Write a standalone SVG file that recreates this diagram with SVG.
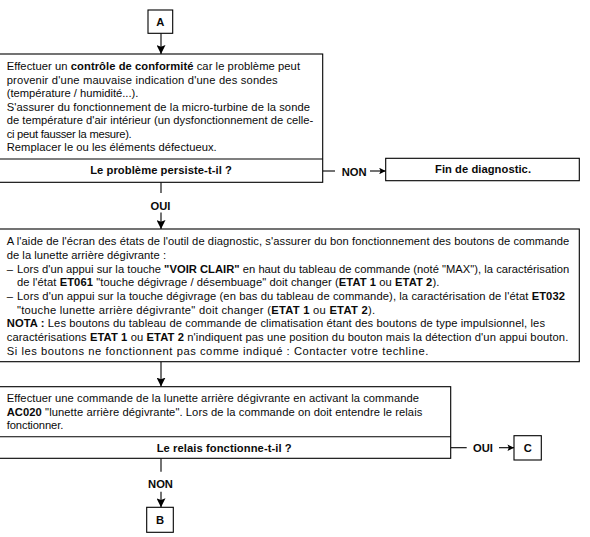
<svg xmlns="http://www.w3.org/2000/svg" width="590" height="537" viewBox="0 0 590 537">
<defs>
<style>
.box{fill:#fff;stroke:#000;stroke-width:1.1}
.t{font-family:"Liberation Sans",Arial,sans-serif;font-size:11.2px;fill:#0a0a0a}
.b{font-weight:bold}
.c{text-anchor:middle}
.ln{stroke:#000;stroke-width:1.1;fill:none}
</style>
<marker id="big" markerUnits="userSpaceOnUse" viewBox="0 0 10 10" markerWidth="9" markerHeight="9" refX="10" refY="5" orient="auto">
<path d="M0,0 L10,5 L0,10 L2,5 z" fill="#000"/>
</marker>
<marker id="small" markerUnits="userSpaceOnUse" viewBox="0 0 10 10" markerWidth="7" markerHeight="6.5" refX="10" refY="5" orient="auto">
<path d="M0,0 L10,5 L0,10 L2,5 z" fill="#000"/>
</marker>
</defs>
<rect width="590" height="537" fill="#fff"/>

<g id="connectors">
<line class="ln" x1="161" y1="33.3" x2="161" y2="54" marker-end="url(#big)"/>
<line class="ln" x1="161" y1="182.3" x2="161" y2="193"/>
<line class="ln" x1="161" y1="212.5" x2="161" y2="229" marker-end="url(#big)"/>
<line class="ln" x1="322.7" y1="171" x2="335" y2="171"/>
<line class="ln" x1="370" y1="171" x2="385.7" y2="171" marker-end="url(#small)"/>
<line class="ln" x1="161" y1="362" x2="161" y2="386.5" marker-end="url(#big)"/>
<line class="ln" x1="161" y1="458.3" x2="161" y2="471.7"/>
<line class="ln" x1="161" y1="491.7" x2="161" y2="507.3" marker-end="url(#big)"/>
<line class="ln" x1="451" y1="447.7" x2="466.7" y2="447.7"/>
<line class="ln" x1="499" y1="447.7" x2="514" y2="447.7" marker-end="url(#small)"/>
<text class="t b c" x="354.2" y="176">NON</text>
<text class="t b c" x="160.5" y="210">OUI</text>
<text class="t b c" x="160.5" y="487.5">NON</text>
<text class="t b c" x="483" y="451.7">OUI</text>
</g>

<g id="nodeA">
<rect class="box" x="148" y="10" width="24.7" height="23.3"/>
<text class="t b c" x="160.3" y="25.5">A</text>
</g>

<g id="node1">
<rect class="box" x="-2" y="54" width="324.7" height="128.3"/>
<line class="ln" x1="-2" y1="159" x2="322.7" y2="159"/>
<text class="t" x="6.7" y="70" textLength="293.3" lengthAdjust="spacing">Effectuer un <tspan class="b">contrôle de conformité</tspan> car le problème peut</text>
<text class="t" x="6.7" y="83.5" textLength="271" lengthAdjust="spacing">provenir d'une mauvaise indication d'une des sondes</text>
<text class="t" x="6.7" y="97" textLength="131.6" lengthAdjust="spacing">(température / humidité...).</text>
<text class="t" x="6.7" y="110.7" textLength="303.3" lengthAdjust="spacing">S'assurer du fonctionnement de la micro-turbine de la sonde</text>
<text class="t" x="6.7" y="124.3" textLength="306.6" lengthAdjust="spacing">de température d'air intérieur (un dysfonctionnement de celle-</text>
<text class="t" x="6.7" y="137.8" textLength="125" lengthAdjust="spacing">ci peut fausser la mesure).</text>
<text class="t" x="6.7" y="150.7" textLength="210" lengthAdjust="spacing">Remplacer le ou les éléments défectueux.</text>
<text class="t b c" x="161" y="174.3" textLength="141.7" lengthAdjust="spacing">Le problème persiste-t-il ?</text>
</g>

<g id="nodeFin">
<rect class="box" x="385.7" y="158.3" width="193.6" height="22.4"/>
<text class="t b c" x="483" y="173" textLength="96" lengthAdjust="spacing">Fin de diagnostic.</text>
</g>

<g id="node2">
<rect class="box" x="-2" y="229" width="581.3" height="132.7"/>
<text class="t" x="6.7" y="245.3" textLength="562.6" lengthAdjust="spacing">A l'aide de l'écran des états de l'outil de diagnostic, s'assurer du bon fonctionnement des boutons de commande</text>
<text class="t" x="6.7" y="259" textLength="159.3" lengthAdjust="spacing">de la lunette arrière dégivrante :</text>
<text class="t" x="6.7" y="272.6">–</text>
<text class="t" x="17" y="272.6" textLength="552.3" lengthAdjust="spacing">Lors d'un appui sur la touche <tspan class="b">"VOIR CLAIR"</tspan> en haut du tableau de commande (noté "MAX"), la caractérisation</text>
<text class="t" x="17" y="286.3" textLength="422.3" lengthAdjust="spacing">de l'état <tspan class="b">ET061</tspan> "touche dégivrage / désembuage" doit changer (<tspan class="b">ETAT 1</tspan> ou <tspan class="b">ETAT 2</tspan>).</text>
<text class="t" x="6.7" y="300">–</text>
<text class="t" x="17" y="300" textLength="548" lengthAdjust="spacing">Lors d'un appui sur la touche dégivrage (en bas du tableau de commande), la caractérisation de l'état <tspan class="b">ET032</tspan></text>
<text class="t" x="17" y="313.6" textLength="358" lengthAdjust="spacing">"touche lunette arrière dégivrante" doit changer (<tspan class="b">ETAT 1</tspan> ou <tspan class="b">ETAT 2</tspan>).</text>
<text class="t" x="6.7" y="327.3" textLength="538.3" lengthAdjust="spacing"><tspan class="b">NOTA :</tspan> Les boutons du tableau de commande de climatisation étant des boutons de type impulsionnel, les</text>
<text class="t" x="6.7" y="341" textLength="561.6" lengthAdjust="spacing">caractérisations <tspan class="b">ETAT 1</tspan> ou <tspan class="b">ETAT 2</tspan> n'indiquent pas une position du bouton mais la détection d'un appui bouton.</text>
<text class="t" x="6.7" y="354.6" textLength="421.6" lengthAdjust="spacing">Si les boutons ne fonctionnent pas comme indiqué : Contacter votre techline.</text>
</g>

<g id="node3">
<rect class="box" x="-2" y="386.7" width="452.7" height="71.6"/>
<line class="ln" x1="-2" y1="436.7" x2="450.7" y2="436.7"/>
<text class="t" x="6.7" y="402.3" textLength="412.3" lengthAdjust="spacing">Effectuer une commande de la lunette arrière dégivrante en activant la commande</text>
<text class="t" x="6.7" y="415.8" textLength="415.6" lengthAdjust="spacing"><tspan class="b">AC020</tspan> "lunette arrière dégivrante". Lors de la commande on doit entendre le relais</text>
<text class="t" x="6.7" y="429" textLength="56.6" lengthAdjust="spacing">fonctionner.</text>
<text class="t b c" x="224.2" y="451.7" textLength="135" lengthAdjust="spacing">Le relais fonctionne-t-il ?</text>
</g>

<g id="nodeC">
<rect class="box" x="514" y="435.7" width="27.3" height="24.3"/>
<text class="t b c" x="527.7" y="451.7">C</text>
</g>

<g id="nodeB">
<rect class="box" x="146.7" y="507.3" width="26.6" height="25"/>
<text class="t b c" x="160" y="524">B</text>
</g>
</svg>
